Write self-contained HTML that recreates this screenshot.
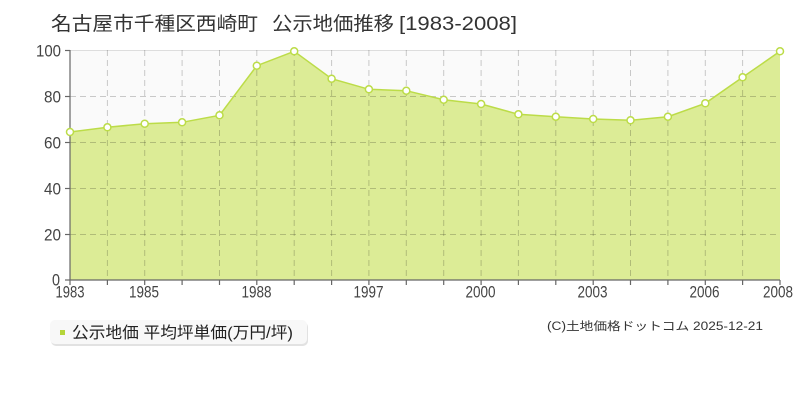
<!DOCTYPE html>
<html><head><meta charset="utf-8"><style>
html,body{margin:0;padding:0;background:#fff;}
svg{display:block;}
text{font-family:"Liberation Sans","Noto Sans CJK JP",sans-serif;}
</style></head><body>
<svg width="800" height="400" viewBox="0 0 800 400" xmlns="http://www.w3.org/2000/svg">
<rect width="800" height="400" fill="#fff"/>
<!-- title -->
<g fill="#333" font-size="19">
<text x="51" y="30" textLength="207" lengthAdjust="spacingAndGlyphs">名古屋市千種区西崎町</text>
<text x="272" y="30" textLength="122" lengthAdjust="spacingAndGlyphs">公示地価推移</text>
<text x="399" y="30" textLength="118" lengthAdjust="spacingAndGlyphs">[1983-2008]</text>
</g>
<!-- plot bg -->
<rect x="70" y="50" width="710" height="230" fill="#fafafa"/>
<line x1="70" y1="50.5" x2="780" y2="50.5" stroke="#dddddd" stroke-width="1"/>
<!-- area -->
<path d="M70,132 L107.4,127.3 L144.7,123.7 L182.1,122.3 L219.5,115.3 L256.8,65.7 L294.2,51.3 L331.6,78.7 L368.9,89.3 L406.3,90.7 L443.7,99.7 L481.1,104 L518.4,114.3 L555.8,116.7 L593.2,119 L630.5,120.3 L667.9,116.7 L705.3,103.3 L742.6,77.3 L780,51.3 L780,280 L70,280 Z" fill="#dcec96"/>
<!-- grid -->
<g stroke="rgba(0,0,0,0.2)" stroke-width="1" stroke-dasharray="6,4">
<line x1="70" y1="96.5" x2="780" y2="96.5"/>
<line x1="70" y1="142.5" x2="780" y2="142.5"/>
<line x1="70" y1="188.5" x2="780" y2="188.5"/>
<line x1="70" y1="234.5" x2="780" y2="234.5"/>
<line x1="107.4" y1="50" x2="107.4" y2="280"/>
<line x1="144.7" y1="50" x2="144.7" y2="280"/>
<line x1="182.1" y1="50" x2="182.1" y2="280"/>
<line x1="219.5" y1="50" x2="219.5" y2="280"/>
<line x1="256.8" y1="50" x2="256.8" y2="280"/>
<line x1="294.2" y1="50" x2="294.2" y2="280"/>
<line x1="331.6" y1="50" x2="331.6" y2="280"/>
<line x1="368.9" y1="50" x2="368.9" y2="280"/>
<line x1="406.3" y1="50" x2="406.3" y2="280"/>
<line x1="443.7" y1="50" x2="443.7" y2="280"/>
<line x1="481.1" y1="50" x2="481.1" y2="280"/>
<line x1="518.4" y1="50" x2="518.4" y2="280"/>
<line x1="555.8" y1="50" x2="555.8" y2="280"/>
<line x1="593.2" y1="50" x2="593.2" y2="280"/>
<line x1="630.5" y1="50" x2="630.5" y2="280"/>
<line x1="667.9" y1="50" x2="667.9" y2="280"/>
<line x1="705.3" y1="50" x2="705.3" y2="280"/>
<line x1="742.6" y1="50" x2="742.6" y2="280"/>
</g>
<!-- line -->
<polyline points="70,132 107.4,127.3 144.7,123.7 182.1,122.3 219.5,115.3 256.8,65.7 294.2,51.3 331.6,78.7 368.9,89.3 406.3,90.7 443.7,99.7 481.1,104 518.4,114.3 555.8,116.7 593.2,119 630.5,120.3 667.9,116.7 705.3,103.3 742.6,77.3 780,51.3" fill="none" stroke="#bcdc48" stroke-width="1.5"/>
<!-- axes -->
<g stroke="#666" stroke-width="1.2">
<line x1="70" y1="50" x2="70" y2="280"/>
<line x1="70" y1="280" x2="780" y2="280"/>
<line x1="65" y1="50.5" x2="70" y2="50.5"/>
<line x1="65" y1="96.5" x2="70" y2="96.5"/>
<line x1="65" y1="142.5" x2="70" y2="142.5"/>
<line x1="65" y1="188.5" x2="70" y2="188.5"/>
<line x1="65" y1="234.5" x2="70" y2="234.5"/>
<line x1="65" y1="280" x2="70" y2="280"/>
<line x1="70" y1="280" x2="70" y2="285"/>
<line x1="107.4" y1="280" x2="107.4" y2="285"/>
<line x1="144.7" y1="280" x2="144.7" y2="285"/>
<line x1="182.1" y1="280" x2="182.1" y2="285"/>
<line x1="219.5" y1="280" x2="219.5" y2="285"/>
<line x1="256.8" y1="280" x2="256.8" y2="285"/>
<line x1="294.2" y1="280" x2="294.2" y2="285"/>
<line x1="331.6" y1="280" x2="331.6" y2="285"/>
<line x1="368.9" y1="280" x2="368.9" y2="285"/>
<line x1="406.3" y1="280" x2="406.3" y2="285"/>
<line x1="443.7" y1="280" x2="443.7" y2="285"/>
<line x1="481.1" y1="280" x2="481.1" y2="285"/>
<line x1="518.4" y1="280" x2="518.4" y2="285"/>
<line x1="555.8" y1="280" x2="555.8" y2="285"/>
<line x1="593.2" y1="280" x2="593.2" y2="285"/>
<line x1="630.5" y1="280" x2="630.5" y2="285"/>
<line x1="667.9" y1="280" x2="667.9" y2="285"/>
<line x1="705.3" y1="280" x2="705.3" y2="285"/>
<line x1="742.6" y1="280" x2="742.6" y2="285"/>
<line x1="780" y1="280" x2="780" y2="285"/>
</g>
<!-- points -->
<g fill="#fff" stroke="#bcdc48" stroke-width="1.5">
<circle cx="70" cy="132" r="3.5"/>
<circle cx="107.4" cy="127.3" r="3.5"/>
<circle cx="144.7" cy="123.7" r="3.5"/>
<circle cx="182.1" cy="122.3" r="3.5"/>
<circle cx="219.5" cy="115.3" r="3.5"/>
<circle cx="256.8" cy="65.7" r="3.5"/>
<circle cx="294.2" cy="51.3" r="3.5"/>
<circle cx="331.6" cy="78.7" r="3.5"/>
<circle cx="368.9" cy="89.3" r="3.5"/>
<circle cx="406.3" cy="90.7" r="3.5"/>
<circle cx="443.7" cy="99.7" r="3.5"/>
<circle cx="481.1" cy="104" r="3.5"/>
<circle cx="518.4" cy="114.3" r="3.5"/>
<circle cx="555.8" cy="116.7" r="3.5"/>
<circle cx="593.2" cy="119" r="3.5"/>
<circle cx="630.5" cy="120.3" r="3.5"/>
<circle cx="667.9" cy="116.7" r="3.5"/>
<circle cx="705.3" cy="103.3" r="3.5"/>
<circle cx="742.6" cy="77.3" r="3.5"/>
<circle cx="780" cy="51.3" r="3.5"/>
</g>
<!-- y labels -->
<g fill="#444" font-size="17" text-anchor="end">
<text x="61" y="56.5" textLength="25" lengthAdjust="spacingAndGlyphs">100</text>
<text x="61" y="102.5" textLength="17" lengthAdjust="spacingAndGlyphs">80</text>
<text x="61" y="148.5" textLength="17" lengthAdjust="spacingAndGlyphs">60</text>
<text x="61" y="194.5" textLength="17" lengthAdjust="spacingAndGlyphs">40</text>
<text x="61" y="240.5" textLength="17" lengthAdjust="spacingAndGlyphs">20</text>
<text x="60" y="285.5" textLength="8" lengthAdjust="spacingAndGlyphs">0</text>
</g>
<!-- x labels -->
<g fill="#444" font-size="17">
<text x="55.5" y="297.5" textLength="29" lengthAdjust="spacingAndGlyphs">1983</text>
<text x="129" y="297.5" textLength="30" lengthAdjust="spacingAndGlyphs">1985</text>
<text x="241.5" y="297.5" textLength="30" lengthAdjust="spacingAndGlyphs">1988</text>
<text x="353.5" y="297.5" textLength="30" lengthAdjust="spacingAndGlyphs">1997</text>
<text x="465.5" y="297.5" textLength="30" lengthAdjust="spacingAndGlyphs">2000</text>
<text x="577.5" y="297.5" textLength="30" lengthAdjust="spacingAndGlyphs">2003</text>
<text x="689.5" y="297.5" textLength="30" lengthAdjust="spacingAndGlyphs">2006</text>
<text x="763" y="297.5" textLength="30" lengthAdjust="spacingAndGlyphs">2008</text>
</g>
<!-- legend -->
<rect x="51" y="322" width="257" height="24" rx="5" fill="#e2e2e2"/>
<rect x="50" y="320" width="257" height="24" rx="5" fill="#f8f8f8"/>
<rect x="60" y="330" width="5" height="5" fill="#b5d53a"/>
<text x="72" y="338" font-size="16" fill="#222" textLength="221" lengthAdjust="spacingAndGlyphs">公示地価 平均坪単価(万円/坪)</text>
<!-- copyright -->
<text x="547" y="330" font-size="11.5" fill="#333" textLength="216" lengthAdjust="spacingAndGlyphs">(C)土地価格ドットコム 2025-12-21</text>
</svg>
</body></html>
